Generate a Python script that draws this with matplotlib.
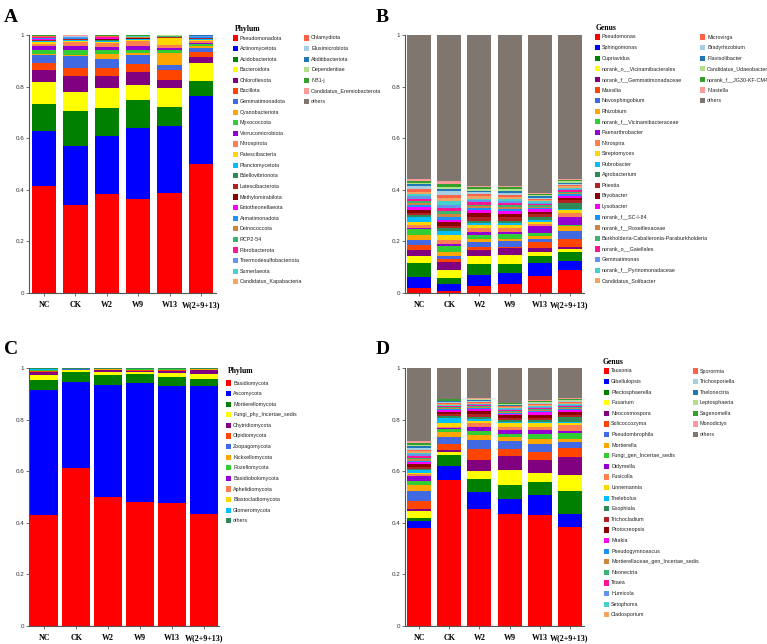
import numpy as np
import matplotlib.pyplot as plt
from matplotlib.patches import Rectangle

plt.rcParams['font.family'] = ['Liberation Sans', 'DejaVu Sans']

samples = ['NC', 'CK', 'W2', 'W9', 'W13', 'W(2+9+13)']

pal = ['#FF0000', '#0000FF', '#008000', '#FFFF00', '#800080', '#FF4500', '#4169E1', '#FFA500',
       '#32CD32', '#9400D3', '#FF7F50', '#FFD700', '#00BFFF', '#2E8B57', '#B22222', '#8B0000',
       '#FF00FF', '#1E90FF', '#CD853F', '#3CB371', '#FF1493', '#6495ED', '#48D1CC', '#F4A460',
       '#FF6347', '#A6CEE3', '#1F78B4', '#B2DF8A', '#33A02C', '#FB9A99']
gray = '#7f776f'

# ---- A: bacteria phylum
phylum_a = ['Pseudomonadota', 'Actinomycetota', 'Acidobacteriota', 'Bacteroidota', 'Chloroflexota',
            'Bacillota', 'Gemmatimonadota', 'Cyanobacteriota', 'Myxococcota', 'Verrucomicrobiota',
            'Nitrospirota', 'Patescibacteria', 'Planctomycetota', 'Bdellovibrionota', 'Latescibacterota',
            'Methylomirabilota', 'Entotheonellaeota', 'Armatimonadota', 'Deinococcota', 'RCP2-54',
            'Fibrobacterota', 'Thermodesulfobacteriota', 'Sumerlaeota', 'Candidatus_Kapabacteria',
            'Chlamydiota', 'Elusimicrobiota', 'Abditibacteriota', 'Dependentiae', 'NB1-j',
            'Candidatus_Eremiobacterota', 'others']
a_nc = [0.416, 0.212, 0.105, 0.085, 0.045, 0.027, 0.031, 0.004, 0.018, 0.014, 0.008, 0.006, 0.004,
        0.003, 0.002, 0.002, 0.004, 0.001, 0.001, 0.001, 0.002, 0.001, 0.001, 0.001, 0.001, 0.001,
        0.001, 0.001, 0.001, 0.001, 0.001]
a_ck = [0.341, 0.230, 0.135, 0.072, 0.062, 0.034, 0.045, 0.003, 0.020, 0.015, 0.016, 0.004, 0.003,
        0.002, 0.001, 0.001, 0.002, 0.001, 0.001, 0.001, 0.001, 0.001, 0.001, 0.001, 0.001, 0.001,
        0.001, 0.001, 0.001, 0.001, 0.001]
a_w2 = [0.385, 0.225, 0.108, 0.075, 0.049, 0.032, 0.032, 0.019, 0.015, 0.015, 0.013, 0.006, 0.004,
        0.002, 0.002, 0.002, 0.003, 0.001, 0.001, 0.001, 0.001, 0.001, 0.001, 0.001, 0.001, 0.001,
        0.001, 0.001, 0.001, 0.001, 0.001]
a_w9 = [0.366, 0.273, 0.110, 0.058, 0.050, 0.032, 0.035, 0.005, 0.014, 0.014, 0.018, 0.005, 0.003,
        0.002, 0.001, 0.001, 0.002, 0.001, 0.001, 0.001, 0.001, 0.001, 0.001, 0.001, 0.0005, 0.0005,
        0.0005, 0.0005, 0.0005, 0.0005, 0.001]
a_w13 = [0.388, 0.260, 0.074, 0.072, 0.032, 0.037, 0.020, 0.047, 0.010, 0.010, 0.012, 0.025, 0.002,
         0.001, 0.001, 0.001, 0.001, 0.0005, 0.0005, 0.0005, 0.0005, 0.0005, 0.0005, 0.0005, 0.0005,
         0.0005, 0.0005, 0.0005, 0.0005, 0.0005, 0.0005]
a_w = [0.500, 0.265, 0.057, 0.071, 0.020, 0.021, 0.017, 0.005, 0.008, 0.006, 0.006, 0.004, 0.004,
       0.002, 0.001, 0.001, 0.002, 0.001, 0.001, 0.001, 0.001, 0.001, 0.001, 0.001, 0.0005, 0.0005,
       0.0005, 0.0005, 0.0005, 0.0005, 0.0005]

# ---- B: bacteria genus
genus_b = ['Pseudomonas', 'Sphingomonas', 'Cupriavidus', 'norank_o__Vicinamibacterales',
           'norank_f__Gemmatimonadaceae', 'Massilia', 'Novosphingobium', 'Rhizobium',
           'norank_f__Vicinamibacteraceae', 'Paenarthrobacter', 'Nitrospira', 'Streptomyces',
           'Rubrobacter', 'Agrobacterium', 'Priestia', 'Bryobacter', 'Lysobacter', 'norank_f__SC-I-84',
           'norank_f__Roseiflexaceae', 'Burkholderia-Caballeronia-Paraburkholderia',
           'norank_o__Gaiellales', 'Gemmatimonas', 'norank_f__Pyrinomonadaceae', 'Candidatus_Solibacter',
           'Microvirga', 'Bradyrhizobium', 'Flavisolibacter', 'Candidatus_Udaeobacter',
           'norank_f__JG30-KF-CM45', 'Niastella', 'others']
b_nc = [0.018, 0.043, 0.055, 0.026, 0.023, 0.022, 0.017, 0.022, 0.021, 0.006, 0.011, 0.013, 0.019,
        0.007, 0.006, 0.013, 0.010, 0.009, 0.009, 0.008, 0.008, 0.009, 0.008, 0.010, 0.011, 0.009,
        0.008, 0.007, 0.008, 0.006, 0.558]
b_ck = [0.006, 0.030, 0.021, 0.033, 0.032, 0.008, 0.015, 0.015, 0.022, 0.007, 0.017, 0.018, 0.017,
        0.010, 0.010, 0.015, 0.008, 0.010, 0.012, 0.010, 0.014, 0.012, 0.014, 0.013, 0.012, 0.013,
        0.010, 0.008, 0.012, 0.010, 0.566]
b_w2 = [0.028, 0.042, 0.042, 0.030, 0.026, 0.010, 0.019, 0.012, 0.017, 0.012, 0.013, 0.013, 0.009,
        0.008, 0.015, 0.013, 0.011, 0.008, 0.008, 0.007, 0.008, 0.008, 0.007, 0.009, 0.008, 0.007,
        0.007, 0.006, 0.006, 0.006, 0.585]
b_w9 = [0.035, 0.042, 0.035, 0.036, 0.026, 0.006, 0.020, 0.011, 0.018, 0.009, 0.013, 0.013, 0.009,
        0.008, 0.013, 0.011, 0.011, 0.008, 0.008, 0.008, 0.008, 0.008, 0.008, 0.009, 0.008, 0.008,
        0.007, 0.007, 0.006, 0.006, 0.585]
b_w13 = [0.064, 0.052, 0.026, 0.017, 0.015, 0.023, 0.013, 0.009, 0.013, 0.026, 0.010, 0.009, 0.007,
         0.012, 0.009, 0.009, 0.011, 0.005, 0.005, 0.005, 0.005, 0.005, 0.005, 0.005, 0.005, 0.005,
         0.005, 0.004, 0.004, 0.004, 0.613]
b_w = [0.088, 0.037, 0.034, 0.011, 0.010, 0.031, 0.029, 0.018, 0.007, 0.031, 0.013, 0.013, 0.005,
       0.021, 0.013, 0.006, 0.009, 0.006, 0.005, 0.006, 0.005, 0.005, 0.005, 0.005, 0.005, 0.005,
       0.005, 0.005, 0.005, 0.004, 0.558]

# ---- C: fungi phylum
phylum_c = ['Basidiomycota', 'Ascomycota', 'Mortierellomycota', 'Fungi_phy_Incertae_sedis',
            'Chytridiomycota', 'Olpidiomycota', 'Zoopagomycota', 'Kickxellomycota', 'Rozellomycota',
            'Basidiobolomycota', 'Aphelidiomycota', 'Blastocladiomycota', 'Glomeromycota', 'others']
c_nc = [0.430, 0.484, 0.041, 0.017, 0.014, 0.002, 0.001, 0.001, 0.001, 0.001, 0.001, 0.001, 0.001, 0.005]
c_ck = [0.614, 0.331, 0.038, 0.008, 0.002, 0.001, 0.0005, 0.0005, 0.0005, 0.0005, 0.0005, 0.0005, 0.0005, 0.0025]
c_w2 = [0.501, 0.434, 0.039, 0.011, 0.006, 0.002, 0.001, 0.001, 0.0005, 0.0005, 0.0005, 0.0005, 0.0005, 0.0025]
c_w9 = [0.480, 0.462, 0.035, 0.009, 0.004, 0.002, 0.001, 0.001, 0.0005, 0.0005, 0.0005, 0.0005, 0.0005, 0.0035]
c_w13 = [0.476, 0.456, 0.033, 0.016, 0.009, 0.002, 0.001, 0.001, 0.0005, 0.0005, 0.0005, 0.0005, 0.0005, 0.0035]
c_w = [0.435, 0.497, 0.024, 0.019, 0.016, 0.002, 0.001, 0.001, 0.0005, 0.0005, 0.0005, 0.0005, 0.0005, 0.0025]

# ---- D: fungi genus
genus_d = ['Tausonia', 'Gibellulopsis', 'Plectosphaerella', 'Fusarium', 'Neocosmospora', 'Solicoccozyma',
           'Pseudombrophila', 'Mortierella', 'Fungi_gen_Incertae_sedis', 'Didymella', 'Fusicolla',
           'Linnemannia', 'Thelebolus', 'Exophiala', 'Trichocladium', 'Protocreopsis', 'Mrakia',
           'Pseudogymnoascus', 'Mortierellaceae_gen_Incertae_sedis', 'Neonectria', 'Titaea', 'Humicola',
           'Setophoma', 'Cladosporium', 'Sporormia', 'Trichosporiella', 'Thelonectria', 'Leptosphaeria',
           'Sagenomella', 'Monodictys', 'others']
d_nc = [0.381, 0.027, 0.009, 0.028, 0.007, 0.033, 0.038, 0.022, 0.016, 0.021, 0.006, 0.006, 0.010,
        0.006, 0.007, 0.009, 0.008, 0.006, 0.007, 0.006, 0.006, 0.006, 0.006, 0.007, 0.006, 0.006,
        0.006, 0.006, 0.006, 0.008, 0.284]
d_ck = [0.565, 0.054, 0.043, 0.013, 0.009, 0.023, 0.026, 0.019, 0.011, 0.005, 0.004, 0.013, 0.023,
        0.005, 0.008, 0.007, 0.008, 0.004, 0.004, 0.003, 0.004, 0.003, 0.004, 0.003, 0.003, 0.004,
        0.003, 0.003, 0.004, 0.003, 0.119]
d_w2 = [0.452, 0.067, 0.050, 0.032, 0.042, 0.042, 0.035, 0.019, 0.017, 0.016, 0.013, 0.010, 0.009,
        0.006, 0.013, 0.011, 0.007, 0.004, 0.003, 0.004, 0.003, 0.004, 0.003, 0.003, 0.004, 0.003,
        0.003, 0.003, 0.003, 0.003, 0.116]
d_w9 = [0.436, 0.058, 0.054, 0.056, 0.054, 0.027, 0.031, 0.017, 0.013, 0.013, 0.013, 0.013, 0.007,
        0.008, 0.008, 0.009, 0.006, 0.004, 0.003, 0.004, 0.003, 0.004, 0.003, 0.003, 0.004, 0.003,
        0.003, 0.003, 0.003, 0.003, 0.134]
d_w13 = [0.432, 0.075, 0.052, 0.035, 0.051, 0.030, 0.032, 0.019, 0.017, 0.016, 0.013, 0.013, 0.007,
         0.008, 0.008, 0.009, 0.013, 0.004, 0.004, 0.004, 0.003, 0.004, 0.003, 0.004, 0.004, 0.003,
         0.003, 0.003, 0.004, 0.003, 0.124]
d_w = [0.382, 0.052, 0.088, 0.062, 0.072, 0.034, 0.024, 0.010, 0.023, 0.009, 0.023, 0.007, 0.006,
       0.017, 0.009, 0.011, 0.008, 0.004, 0.004, 0.004, 0.004, 0.004, 0.003, 0.004, 0.004, 0.003,
       0.003, 0.003, 0.004, 0.003, 0.116]

W, H = 767, 644
fig = plt.figure(figsize=(W / 100, H / 100), dpi=100)


def box(x0, x1, y0, y1):
    # pixel box -> figure fraction rect
    return [x0 / W, 1 - y1 / H, (x1 - x0) / W, (y1 - y0) / H]


def stack(ax, cols, colors, width):
    data = np.array(cols).T
    x = np.arange(len(samples))
    bottom = np.zeros(len(samples))
    for i, row in enumerate(data):
        ax.bar(x, row, width, bottom=bottom, color=colors[i], linewidth=0)
        bottom += row
    ax.set_ylim(0, 1)
    ax.set_xlim(-0.48, 5.48)
    ax.set_xticks(x)
    ax.set_xticklabels(samples, fontfamily='Liberation Serif', fontweight='bold', fontsize=5.8)
    ax.set_yticks([0, 0.2, 0.4, 0.6, 0.8, 1])
    ax.set_yticklabels(['0', '0.2', '0.4', '0.6', '0.8', '1'], fontsize=4.5, color='#333333')
    ax.tick_params(length=2, width=0.6, color='#555555', pad=1.5)
    ax.tick_params(axis='x', pad=4)
    for s in ['top', 'right']:
        ax.spines[s].set_visible(False)
    for s in ['left', 'bottom']:
        ax.spines[s].set_color('#555555')
        ax.spines[s].set_linewidth(0.8)


def legend(names, colors, title, tx, ty, x1, x2, y0, dy, n1=24):
    fig.text(tx / W, 1 - ty / H, title, fontfamily='Liberation Serif', fontweight='bold',
             fontsize=5.5, va='center', ha='left')
    for i, (n, c) in enumerate(zip(names, colors)):
        if i < n1:
            x, y = x1, y0 + i * dy
        else:
            x, y = x2, y0 + (i - n1) * dy
        fig.add_artist(Rectangle((x / W, 1 - (y + 2.6) / H), 5.2 / W, 5.2 / H,
                                 transform=fig.transFigure, color=c, lw=0))
        fig.text((x + 7) / W, 1 - y / H, n, fontsize=3.9, va='center', ha='left', color='#222222')


cols_a = pal + [gray]
cols_c = pal[:13] + ['#2E8B57']

axA = fig.add_axes(box(29, 216, 35, 293))
stack(axA, [a_nc, a_ck, a_w2, a_w9, a_w13, a_w], cols_a, 0.78)
legend(phylum_a, cols_a, 'Phylum', 235, 29, 233, 304, 38, 10.6)

axB = fig.add_axes(box(405, 584, 35, 293))
stack(axB, [b_nc, b_ck, b_w2, b_w9, b_w13, b_w], cols_a, 0.8)
legend(genus_b, cols_a, 'Genus', 596, 28, 595, 700, 37, 10.6)

axC = fig.add_axes(box(29, 219, 368, 626))
stack(axC, [c_nc, c_ck, c_w2, c_w9, c_w13, c_w], cols_c, 0.87)
legend(phylum_c, cols_c, 'Phylum', 228, 371, 226, 226, 383, 10.6, n1=14)

axD = fig.add_axes(box(405, 584, 368, 626))
stack(axD, [d_nc, d_ck, d_w2, d_w9, d_w13, d_w], cols_a, 0.8)
legend(genus_d, cols_a, 'Genus', 603, 362, 604, 693, 371, 10.6)

for lab, x, y in [('A', 4, 17), ('B', 376, 17), ('C', 4, 349), ('D', 376, 349)]:
    fig.text(x / W, 1 - y / H, lab, fontfamily='Liberation Serif', fontweight='bold',
             fontsize=14, va='center', ha='left')

fig.savefig('out.png', dpi=100)
